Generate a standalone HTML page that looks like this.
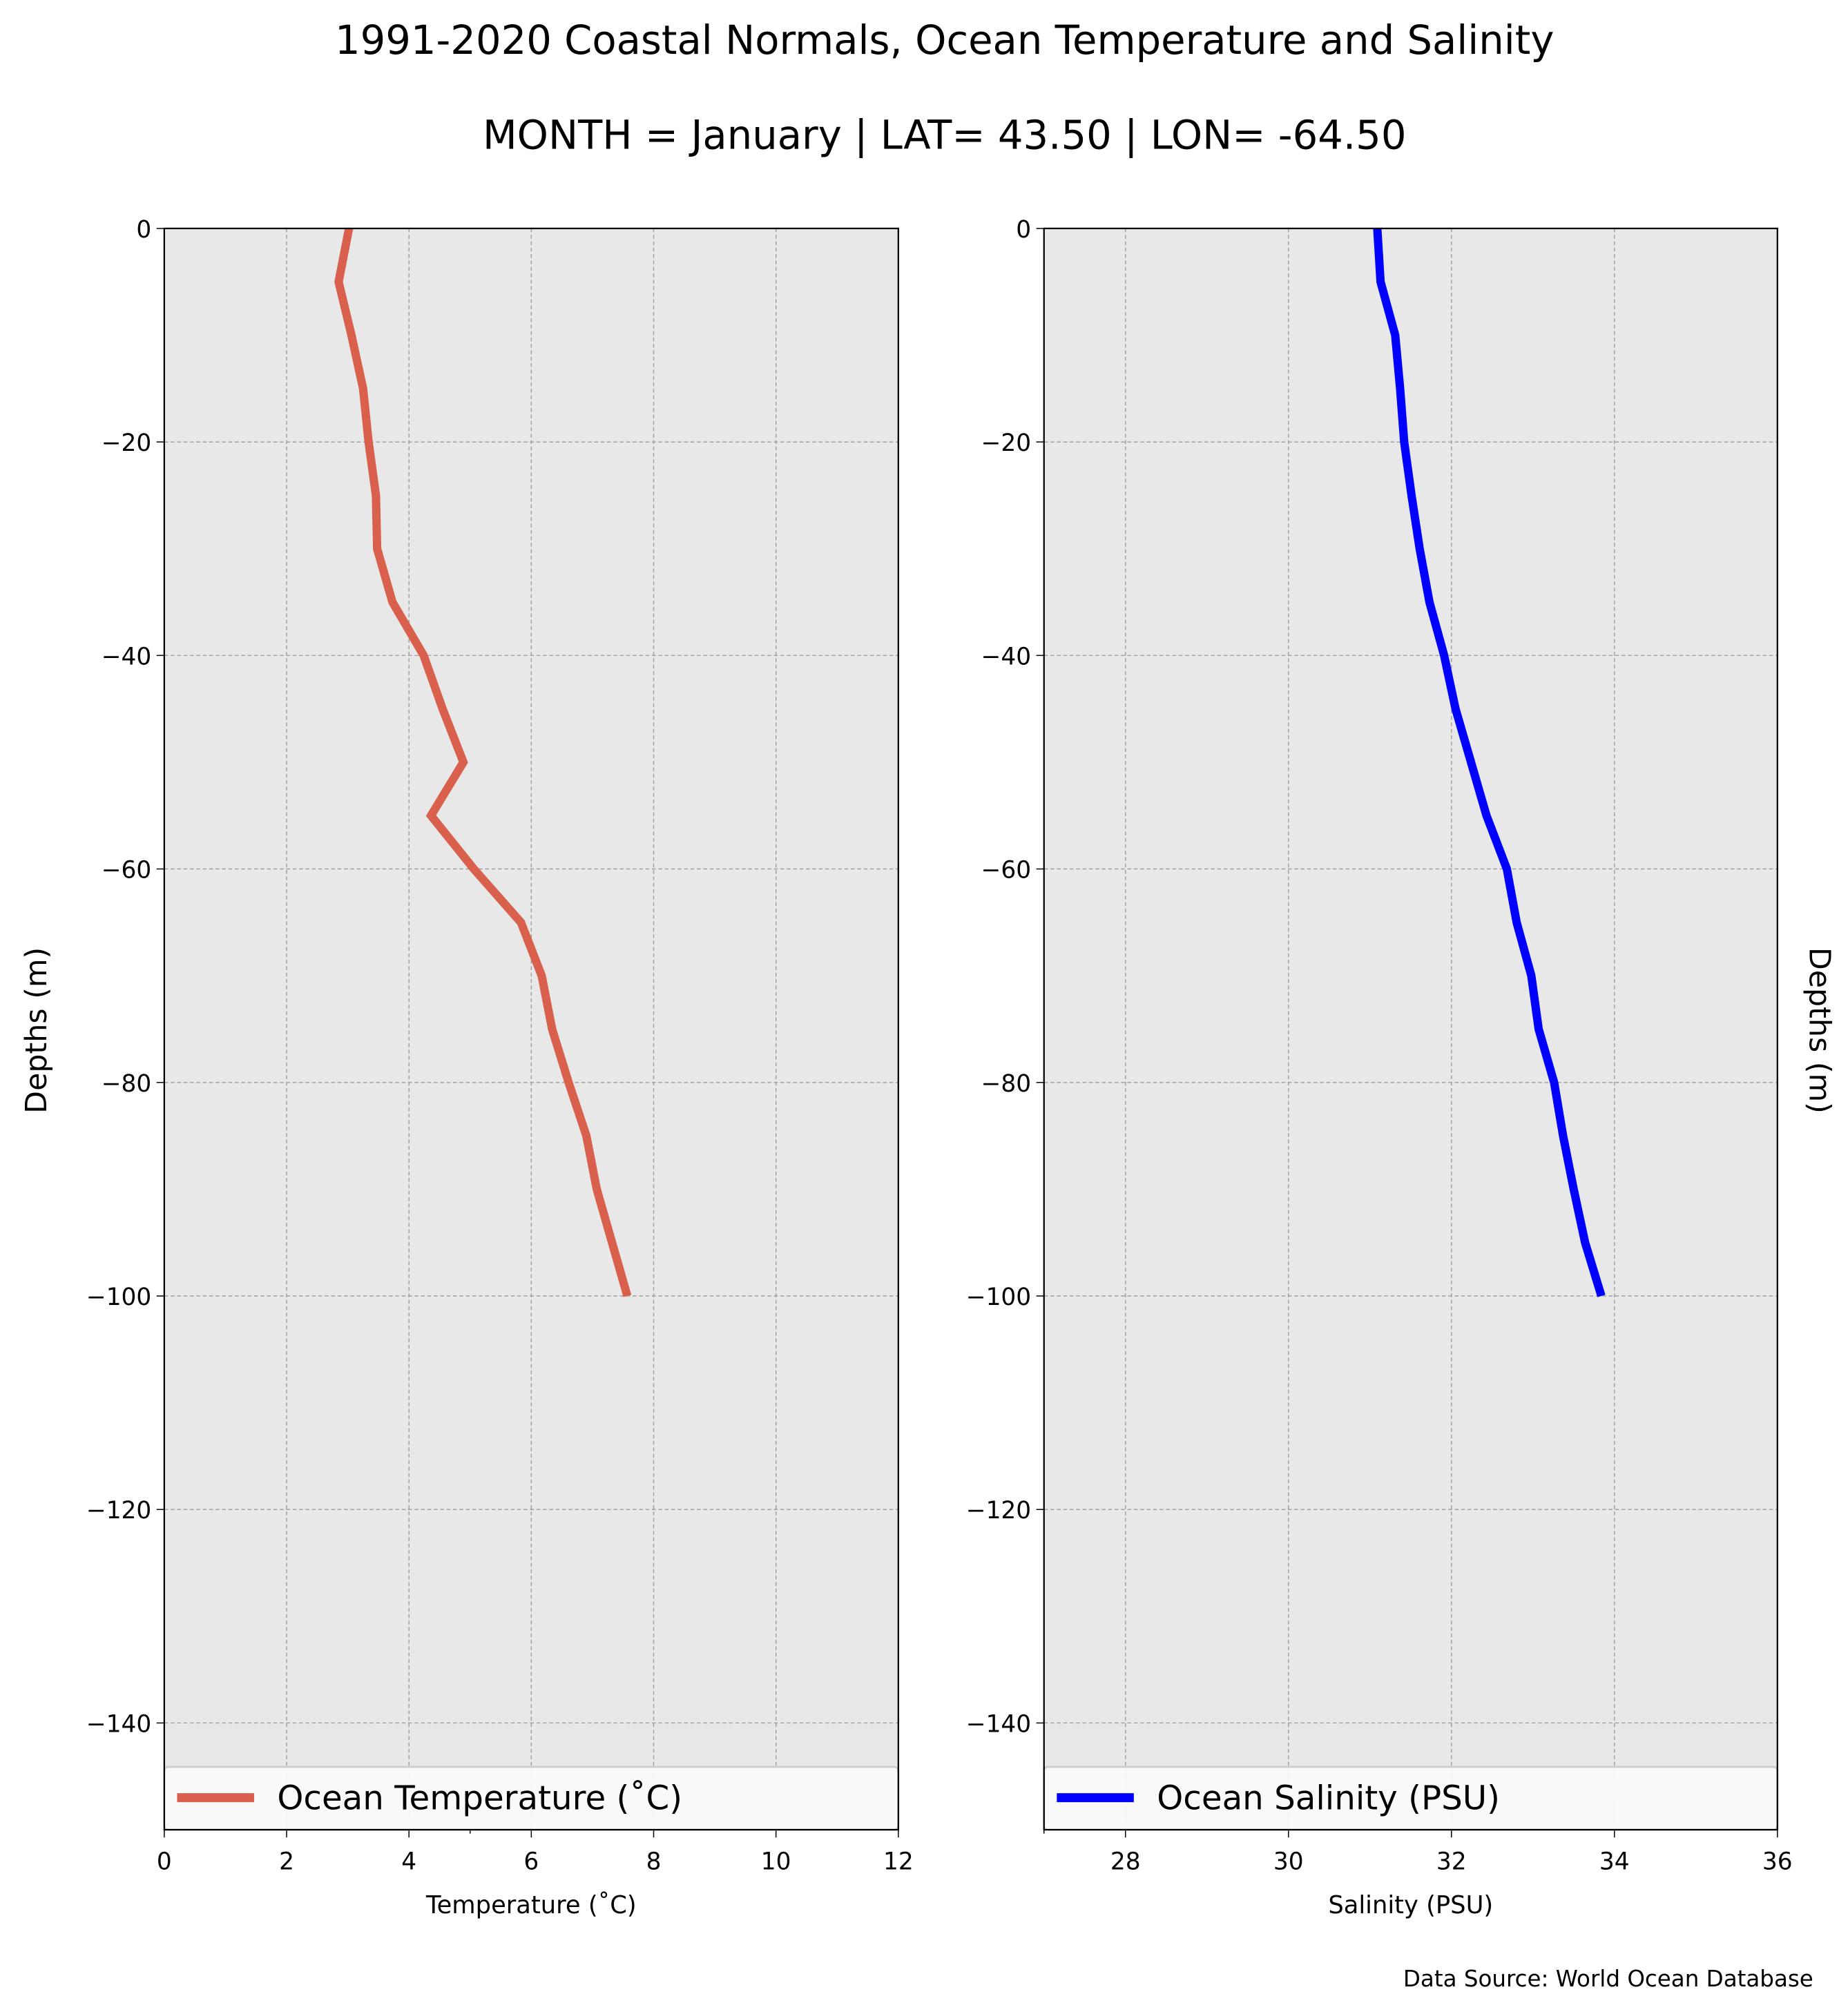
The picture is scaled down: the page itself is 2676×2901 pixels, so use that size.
<!DOCTYPE html>
<html><head><meta charset="utf-8"><style>
html,body{margin:0;padding:0;background:#fff;}
svg{display:block;font-family:"DejaVu Sans","Liberation Sans",sans-serif;}
</style></head><body>
<svg id="fig" width="2676" height="2901" viewBox="0 0 1440 1561" xmlns="http://www.w3.org/2000/svg">
<rect width="1440" height="1561" fill="#fff"/>
<text x="736" y="42" font-size="31" text-anchor="middle">1991-2020 Coastal Normals, Ocean Temperature and Salinity</text>
<text x="736" y="116" font-size="31" text-anchor="middle">MONTH = January | LAT= 43.50 | LON= -64.50</text>
<text x="1413" y="1548" font-size="17.5" text-anchor="end">Data Source: World Ocean Database</text>
<g id="left"></g>
<g id="right"></g>
</svg>
<script>
const depths = [0,-5,-10,-15,-20,-25,-30,-35,-40,-45,-50,-55,-60,-65,-70,-75,-80,-85,-90,-95,-100];
const temperature = [3.02,2.85,3.06,3.25,3.34,3.46,3.48,3.73,4.24,4.55,4.89,4.36,5.06,5.83,6.17,6.34,6.61,6.90,7.07,7.32,7.57];
const salinity = [31.09,31.13,31.31,31.37,31.42,31.51,31.61,31.73,31.91,32.05,32.24,32.43,32.68,32.80,32.98,33.07,33.26,33.37,33.50,33.64,33.84];
const yTicks = [0,-20,-40,-60,-80,-100,-120,-140];
const tempTicks = [0,2,4,6,8,10,12];
const salTicks = [28,30,32,34,36];

const NS="http://www.w3.org/2000/svg";
function mk(parent,tag,attrs,text){const e=document.createElementNS(NS,tag);for(const k in attrs)e.setAttribute(k,attrs[k]);if(text!==undefined)e.textContent=text;parent.appendChild(e);return e;}
const TOP=178,BOT=1426;
const yScale=d=>TOP+(0-d)/150*(BOT-TOP);

function panel(g,x0,x1,xmin,xmax,xticks,vals,color,legend,xlabel,prefix,minorTicks){
  const xs=v=>x0+(v-xmin)/(xmax-xmin)*(x1-x0);
  const bg=mk(g,'rect',{x:x0,y:TOP,width:x1-x0,height:BOT-TOP,fill:'#e8e8e8'});
  
  
  xticks.forEach(t=>{
    const gl=mk(g,'line',{x1:xs(t),x2:xs(t),y1:TOP,y2:BOT,stroke:'#a0a0a0','stroke-width':0.8,'stroke-dasharray':'3,2'});
    
    
    const tk=mk(g,'line',{x1:xs(t),x2:xs(t),y1:BOT,y2:BOT+6,stroke:'#000','stroke-width':0.8});
    
    
    const tl=mk(g,'text',{x:xs(t),y:BOT+31,'font-size':18.5,'text-anchor':'middle'},String(t));
    
    
  });
  minorTicks.forEach(t=>{
    const tk=mk(g,'line',{x1:xs(t),x2:xs(t),y1:BOT,y2:BOT+3,stroke:'#000','stroke-width':0.8});
    
    
  });
  yTicks.forEach(t=>{
    const gl=mk(g,'line',{x1:x0,x2:x1,y1:yScale(t),y2:yScale(t),stroke:'#a0a0a0','stroke-width':0.8,'stroke-dasharray':'3,2'});
    
    
    const tk=mk(g,'line',{x1:x0-6,x2:x0,y1:yScale(t),y2:yScale(t),stroke:'#000','stroke-width':0.8});
    
    
    const tl=mk(g,'text',{x:x0-10,y:yScale(t)+7,'font-size':18.5,'text-anchor':'end'},t<0?'\u2212'+(-t):String(t));
    
    
  });
  const pts=vals.map((v,i)=>xs(v).toFixed(2)+','+yScale(depths[i]).toFixed(2)).join(' ');
  const ln=mk(g,'polyline',{points:pts,fill:'none',stroke:color,'stroke-width':6.5,'stroke-linejoin':'miter'});
  
  
  const lg=mk(g,'g',{});
  
  
  mk(lg,'rect',{x:x0,y:1377,width:x1-x0,height:49,rx:3,fill:'#fafafa','fill-opacity':0.95,stroke:'#cccccc','stroke-width':1.5});
  mk(lg,'line',{x1:x0+10,x2:x0+70,y1:1401,y2:1401,stroke:color,'stroke-width':7});
  mk(lg,'text',{x:x0+88,y:1410,'font-size':26},legend);
  const fr=mk(g,'rect',{x:x0,y:TOP,width:x1-x0,height:BOT-TOP,fill:'none',stroke:'#000','stroke-width':1.2});
  
  
  const xl=mk(g,'text',{x:(x0+x1)/2,y:1491,'font-size':19,'text-anchor':'middle'},xlabel);
  
  
}
panel(document.getElementById('left'),128,700,0,12,tempTicks,temperature,'#d9604c','Ocean Temperature (\u02daC)','Temperature (\u02daC)','temp',[5]);
panel(document.getElementById('right'),813.5,1385,27,36,salTicks,salinity,'#0000ff','Ocean Salinity (PSU)','Salinity (PSU)','sal',[27]);
const fig=document.getElementById('fig');
const yl=mk(fig,'text',{x:0,y:0,'font-size':23,'text-anchor':'middle',transform:'translate(36,803) rotate(-90)'},'Depths (m)');


const yr=mk(fig,'text',{x:0,y:0,'font-size':23,'text-anchor':'middle',transform:'translate(1410,803) rotate(90)'},'Depths (m)');


</script>
</body></html>
